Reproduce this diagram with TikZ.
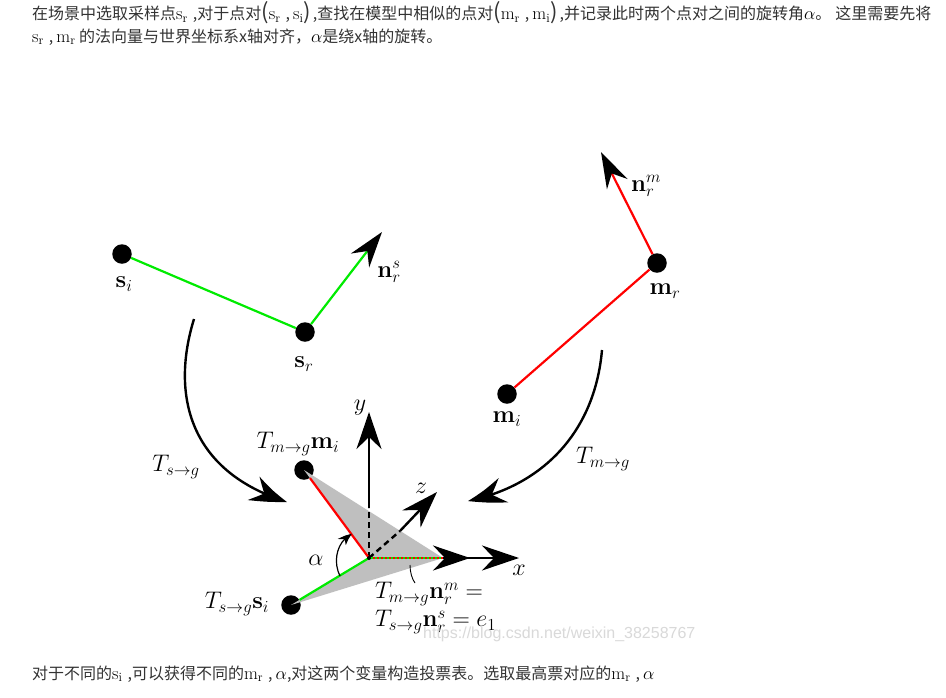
\RequirePackage{fix-cm}
\documentclass[tikz,border=0pt]{standalone}
\usepackage{fontspec}
\setmainfont{Latin Modern Roman}
\newfontfamily\cjk{Noto Sans CJK SC}
\usetikzlibrary{arrows.meta,bending}
\definecolor{lgreen}{RGB}{0,235,0}
\tikzset{
  pt/.style={circle,fill=black,draw=none,minimum size=19.5pt,inner sep=0pt},
  tinypt/.style={circle,fill=black,inner sep=0pt,minimum size=4pt},
  lab/.style={inner sep=0pt,yshift=-2pt,font=\fontsize{24}{28}\selectfont,text=black},
  para/.style={inner sep=0pt,anchor=west,font=\fontsize{16}{19}\selectfont\cjk,text=black!80},
  grn/.style={draw=lgreen,line width=2.2pt},
  rd/.style={draw=red,line width=2.2pt},
  big/.style={-{Stealth[length=37pt,width=25pt,inset=12pt]},line width=2.4pt,black},
  cur/.style={-{Stealth[length=38pt,width=26pt,inset=13pt,bend]},line width=2.4pt,black},
  nrm/.style={-{Stealth[length=36pt,width=23pt,inset=12pt]},line width=2.2pt},
}
\newcommand{\vs}[2]{{\fontsize{18}{19}\selectfont\color{black}$\mathrm{#1}_{\mathrm{#2}}$}}
\newcommand{\al}{{\fontsize{18}{19}\selectfont\color{black}$\alpha$}}
\newcommand{\cm}{\hspace{5pt},}
\newcommand{\lp}{{\fontsize{22}{22}\selectfont(}}
\newcommand{\rp}{{\fontsize{22}{22}\selectfont)}\hspace{2pt}}
\begin{document}
\begin{tikzpicture}[x=1pt,y=-1pt]
\useasboundingbox[fill=white] (0,0) rectangle (946,697);
% texts
\node[para] (t1) at (32,13) {在场景中选取采样点\vs{s}{r}\cm 对于点对\lp\vs{s}{r}\cm\hspace{3pt}\vs{s}{i}\rp,查找在模型中相似的点对\lp\vs{m}{r}\cm\hspace{3pt}\vs{m}{i}\rp,并记录此时两个点对之间的旋转角\al。\hspace{4pt}这里需要先将};
\node[para] (t2) at (32,37) {\vs{s}{r}\cm\hspace{3pt}\vs{m}{r} 的法向量与世界坐标系x轴对齐，\al 是绕x轴的旋转。};
\node[para] (t3) at (32,674) {对于不同的\vs{s}{i}\cm 可以获得不同的\vs{m}{r}\cm\hspace{3pt}\al,对这两个变量构造投票表。选取最高票对应的\vs{m}{r}\cm\hspace{3pt}\al};
% coordinates
\coordinate (c) at (369,558);
\coordinate (ytip) at (369,412);
\coordinate (ybr) at (369,508);
\coordinate (ztip) at (437,492);
\coordinate (zbr) at (400,531);
\coordinate (xtip) at (519,558);
\coordinate (xtip2) at (470,558);
\coordinate (e) at (443,558);
\coordinate (ns) at (382,232);
\coordinate (nm) at (601,152);
\coordinate (la) at (194,319);
\coordinate (lb) at (287,502);
\coordinate (ra) at (602,350);
\coordinate (rb) at (468,501);
\coordinate (aa) at (340,576);
\coordinate (ab) at (352,534);
\coordinate (ca) at (410,565);
\coordinate (cb) at (415,583);
% points
\node[pt] (si) at (122,254) {};
\node[pt] (sr) at (305,332) {};
\node[pt] (mr) at (657,263) {};
\node[pt] (mi) at (507,394) {};
\node[pt] (tm) at (304,470) {};
\node[pt] (ts) at (291,605) {};
% shaded
\fill[black!25] (tm.center) -- (e) -- (ts.center) -- (c) -- cycle;
% top segments
\draw[grn] (si) -- (sr);
\draw[rd] (mi) -- (mr);
\draw[nrm,draw=lgreen,-{Stealth[length=36pt,width=23pt,inset=12pt,black]}] (sr) -- (ns);
\draw[nrm,draw=red,-{Stealth[length=36pt,width=23pt,inset=12pt,black]}] (mr) -- (nm);
% curved
\draw[cur] (la) .. controls (172,390) and (185,470) .. (lb);
\draw[cur] (ra) .. controls (595,430) and (545,485) .. (rb);
% axes
\draw[big] (ybr) -- (ytip);
\draw[line width=2.4pt,dash pattern=on 6pt off 4pt] (c) -- (ybr);
\draw[big] (zbr) -- (ztip);
\draw[line width=2.4pt,dash pattern=on 6pt off 4pt] (c) -- (zbr);
\draw[big] (e) -- (xtip);
\draw[big] (e) -- (xtip2);
% segments at centre
\draw[rd] (tm) -- (c);
\draw[grn] (ts) -- (c);
\draw[line width=2.2pt,draw=lgreen] (c) -- (e);
\draw[line width=2.2pt,draw=red,dash pattern=on 2pt off 2pt] (c) -- (e);
\node[tinypt] (o) at (c) {};
% angle
\draw[-{Stealth[length=13pt,width=10pt,inset=4pt,bend]},line width=1.2pt] (aa) .. controls (332,560) and (338,540) .. (ab);
\draw[line width=0.9pt] (ca) .. controls (410,572) and (412,579) .. (cb);
% labels
\node[lab] (lsi) at (124,282) {$\mathbf{s}_i$};
\node[lab] (lsr) at (304,362) {$\mathbf{s}_r$};
\node[lab] (lns) at (389,270) {$\mathbf{n}_r^s$};
\node[lab] (lmr) at (665,289) {$\mathbf{m}_r$};
\node[lab] (lmi) at (507,417) {$\mathbf{m}_i$};
\node[lab] (lnm) at (646,184) {$\mathbf{n}_r^m$};
\node[lab] (lts) at (176,465) {$T_{s\to g}$};
\node[lab] (ltm) at (603,457) {$T_{m\to g}$};
\node[lab] (ly) at (360,406) {$y$};
\node[lab] (lz) at (421,486) {$z$};
\node[lab] (lx) at (519,568) {$x$};
\node[lab] (la2) at (316,558) {$\alpha$};
\node[lab] (ltmi) at (298,442) {$T_{m\to g}\mathbf{m}_i$};
\node[lab] (ltsi) at (237,602) {$T_{s\to g}\mathbf{s}_i$};
\node[lab,anchor=west] (l1) at (375,592) {$T_{m\to g}\mathbf{n}_r^m=$};
\node[lab,anchor=west] (l2) at (375,620) {$T_{s\to g}\mathbf{n}_r^s=e_1$};
\node[inner sep=0pt,anchor=west,font=\fontsize{16}{19}\selectfont\fontspec{Liberation Sans},text=black!15] (wm) at (423,634) {https://blog.csdn.net/weixin\_38258767};
\end{tikzpicture}
\end{document}
